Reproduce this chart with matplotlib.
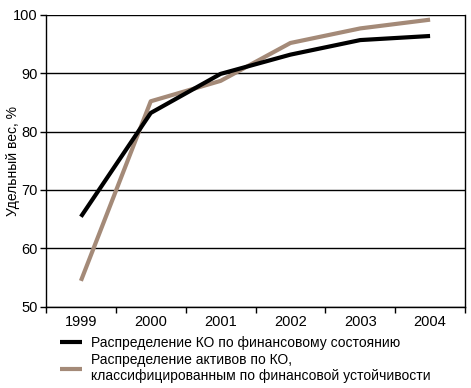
import matplotlib
matplotlib.use("Agg")
import matplotlib.pyplot as plt
import numpy as np

plt.rcParams['font.family'] = ['Liberation Sans', 'DejaVu Sans']

years = ["1999", "2000", "2001", "2002", "2003", "2004"]
ko_financial = [65.4, 83.2, 89.9, 93.2, 95.7, 96.4]
assets_stability = [54.4, 85.2, 88.7, 95.2, 97.7, 99.2]

label1 = "Распределение КО по финансовому состоянию"
label2 = "Распределение активов по КО,\nклассифицированным по финансовой устойчивости"

fig = plt.figure(figsize=(4.71, 3.88), dpi=100)
ax = fig.add_axes([46/471, 1-306.5/388, (465-46)/471, (306.5-15)/388])

x = np.arange(len(years)) + 0.5
ax.plot(x, ko_financial, color='black', lw=3, label=label1, solid_capstyle='butt', zorder=3)
ax.plot(x, assets_stability, color='#a48a78', lw=3, label=label2, solid_capstyle='butt', zorder=2)

ax.set_xlim(0, len(years))
ax.set_ylim(50, 100)
ax.set_yticks([50, 60, 70, 80, 90, 100])
ax.set_xticks(np.arange(len(years) + 1))
ax.set_xticklabels([])
ax.set_xticks(x, minor=True)
ax.set_xticklabels(years, minor=True)
ax.tick_params(axis='x', which='minor', length=0, labelsize=10.5, pad=6)
ax.tick_params(axis='x', which='major', length=4, width=1, direction='out')
ax.tick_params(axis='y', length=4, width=1, direction='out', labelsize=10.5, pad=2)
ax.yaxis.grid(True, color='black', lw=1)
ax.set_axisbelow(True)
for s in ax.spines.values():
    s.set_linewidth(1)
ax.spines['top'].set_visible(False)
ax.set_ylabel("Удельный вес, %", fontsize=10)
ax.yaxis.set_label_coords((20 - 46) / 419, 0.5)

ax.legend(loc='upper left', bbox_to_anchor=(60/471, 1-336/388), bbox_transform=fig.transFigure,
          frameon=False, fontsize=10, handlelength=1.6, handletextpad=0.6, labelspacing=0.2,
          borderpad=0, borderaxespad=0)

fig.savefig("out.png", dpi=100)
